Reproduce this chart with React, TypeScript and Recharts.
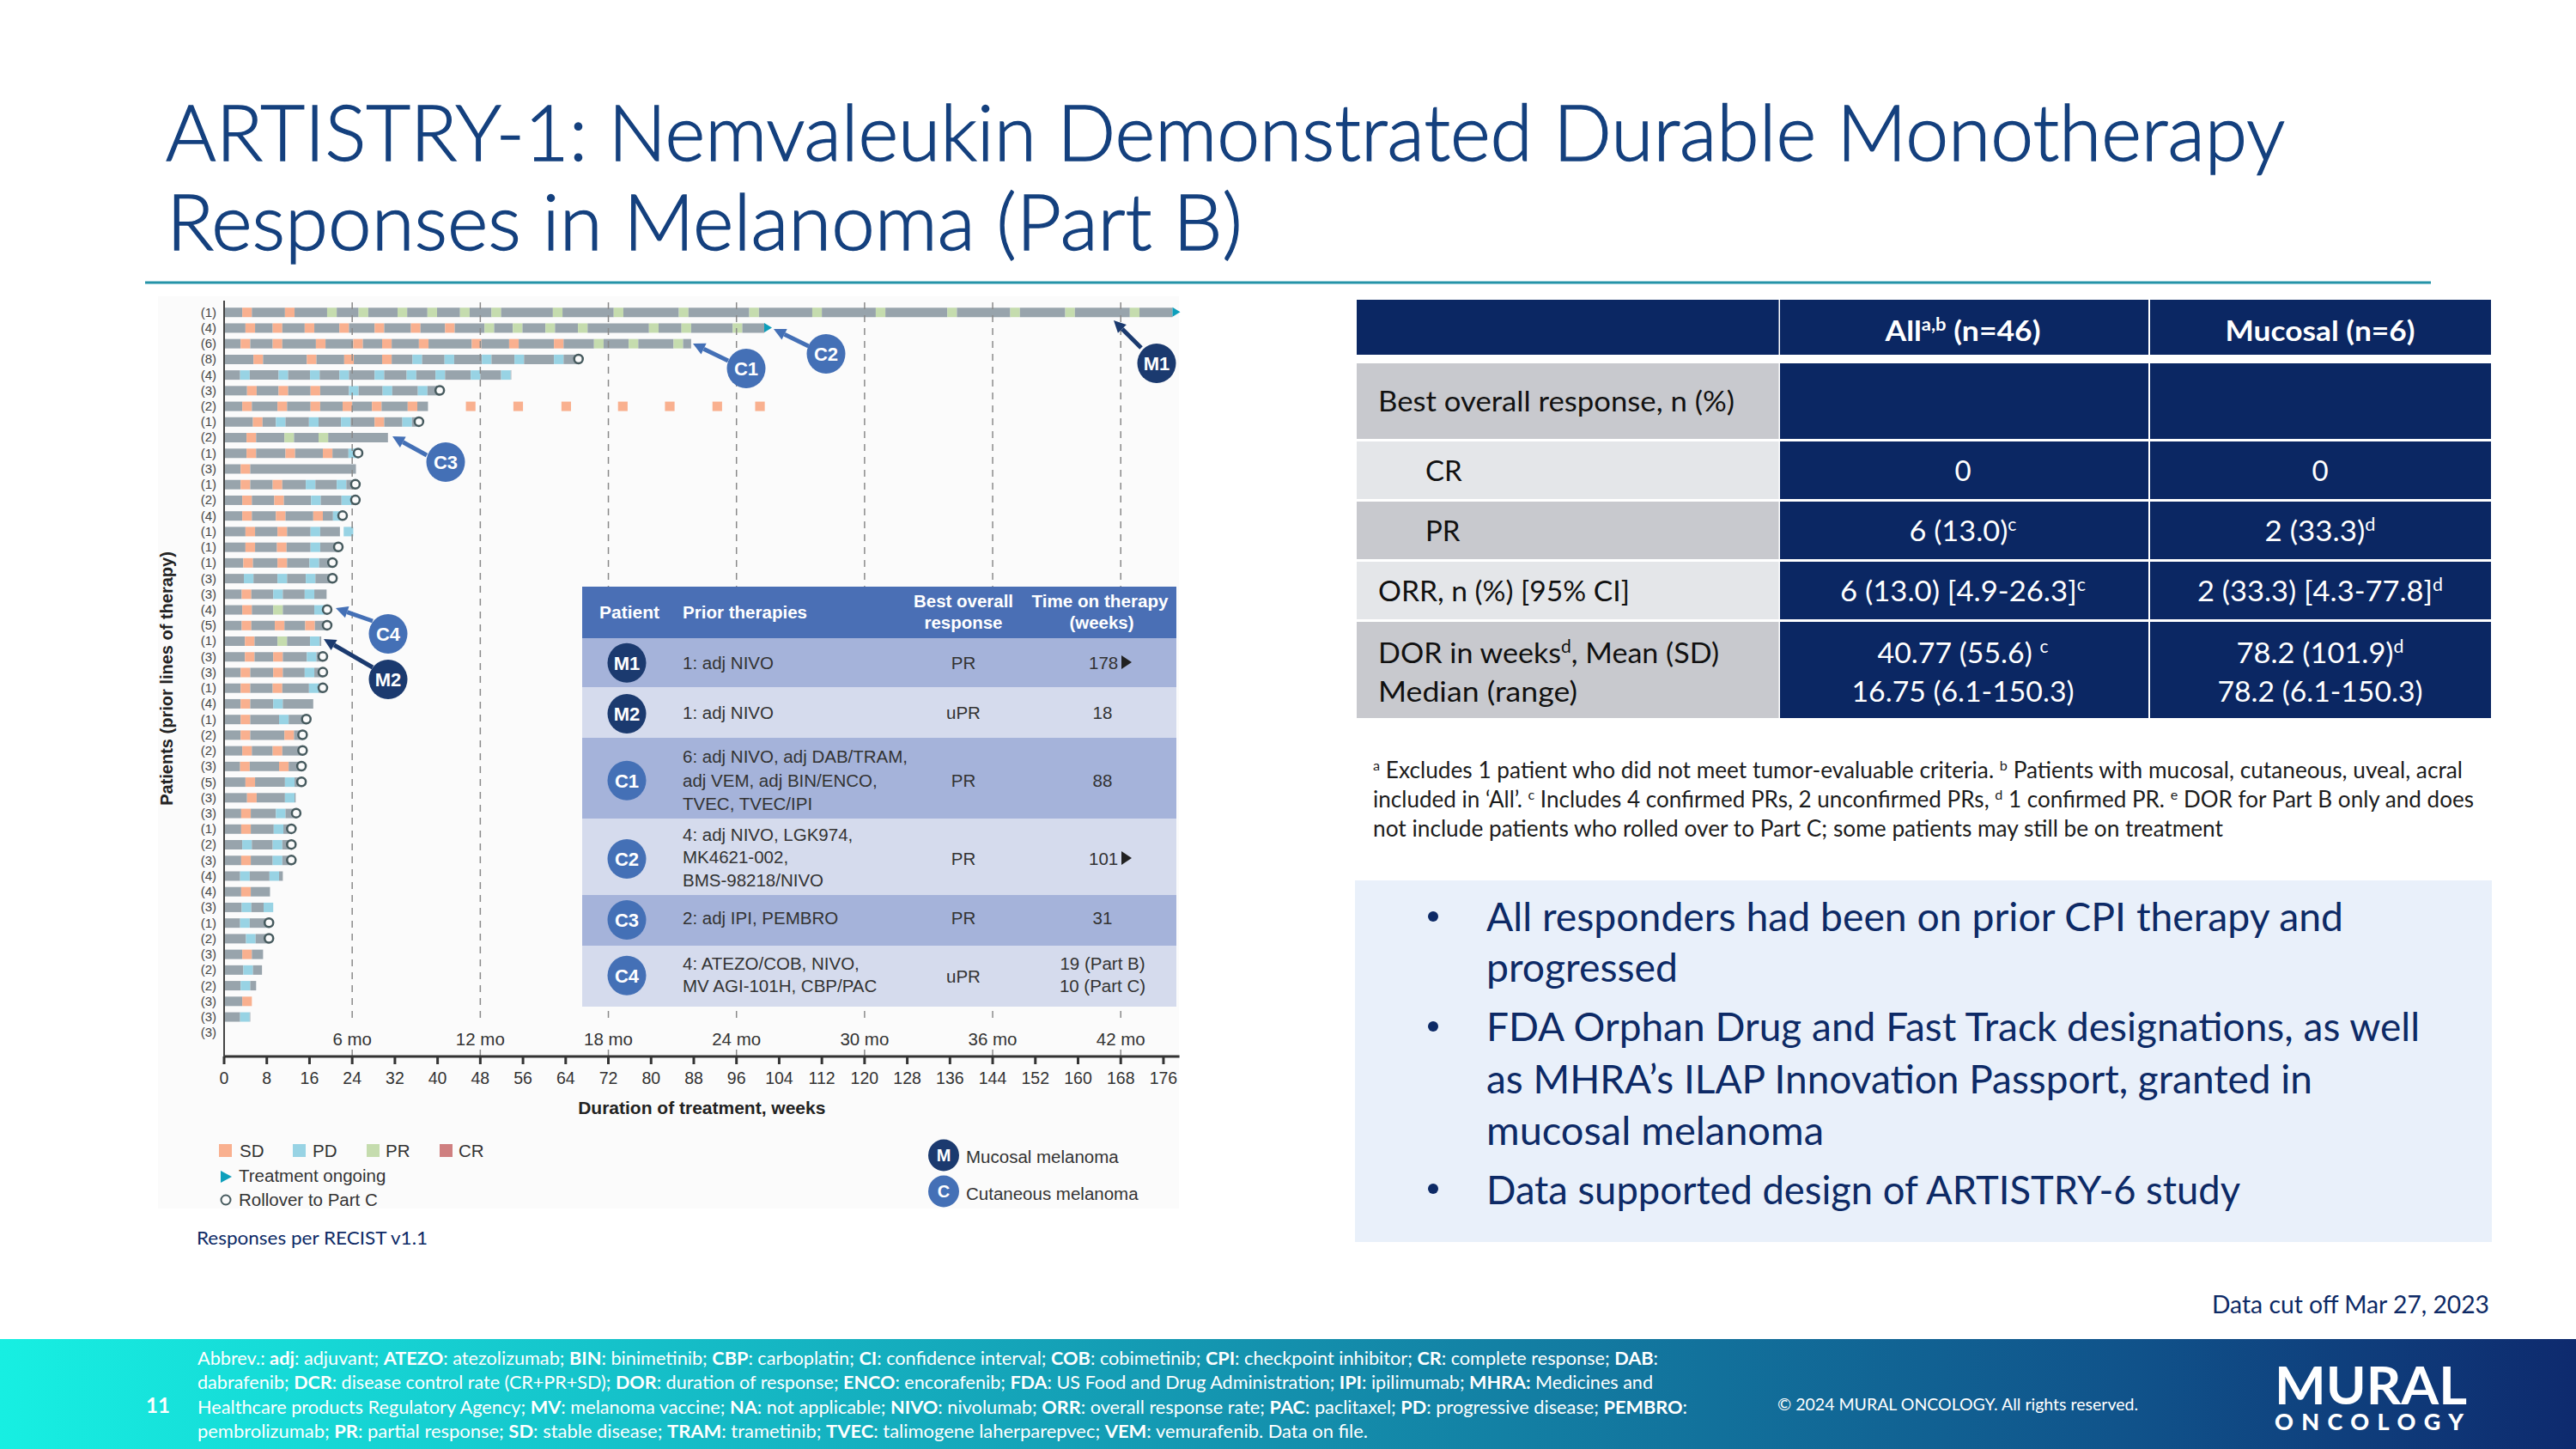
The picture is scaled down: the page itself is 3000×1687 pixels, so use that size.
import React from "react";
import { BarChart, Bar, Cell, XAxis, YAxis, ReferenceLine, ReferenceDot } from "recharts";

// ---------- Data ----------
const priorLines = [1,4,6,8,4,3,2,1,2,1,3,1,2,4,1,1,1,3,3,4,5,1,3,3,1,4,1,2,2,3,5,3,3,1,2,3,4,4,3,1,2,3,2,2,3,3,3];
const durations = [177.7,101.2,87.5,66.4,53.8,40.4,38.2,36.5,30.7,25.1,24.7,24.6,24.6,22.2,21.7,21.4,20.3,20.3,19.2,19.3,19.3,18.2,18.5,18.5,18.5,16.7,15.4,14.7,14.7,14.5,14.5,13.4,13.5,12.6,12.6,12.6,11,8.6,9.2,8.4,8.4,7.3,7.1,6,5.1,4.9,0];
const markWeeks = [
  [3.4,11.4,19.3,25.2,32.5,38.1,44.2,50.1,61.6,73,85.2,98.4,110.2,122.1,135.5,147.3,157.6,169.7],
  [4,9.1,15.1,21.6,28.2,35,41.4,48.8,54.1,60.2,66.3,79.6,85.7,95.3],
  [3.1,9.1,17.2,24.2,29.6,36.5,46.4,53.4,61.8,69.3,75.8,84.2],
  [5.5,15.5,22.5,29.6,35.3,41.3,48.3,54.4,61.8],
  [3,10.2,16.1,21.6,28.2,34.2,39.6,46.2,51.9],
  [4.3,10.2,16.2,23.4,29.7,36.3],
  [3.4,10,16.2,22.2,27.7,34.4,45.3,54.2,63.2,73.8,82.6,91.5,99.5],
  [5.4,9.7,15.9,21.9,28.2,33.4],
  [4.2,11.3,17.7],
  [4.2,11.5,18.5,23.3],
  [3.1],
  [3.1,9.1,15.3,21.1],
  [3.4,9.4,16.3,22],
  [3.4,9.7,16.7,20.4],
  [4,10,16.2,22.4],
  [4,9.9,16.2],
  [3.6,10,16],
  [3.7,10,15.3],
  [3.3,9.2,15.1],
  [3.4,9.2,16.9],
  [3.3,9.5,15.2],
  [3.9,10,16.1],
  [3.9,9.2,15.5],
  [3.1,9.2,15.1],
  [3.1,9.1,15.9],
  [3.1,9.2],
  [3.1,10.3],
  [3.1,11.3],
  [3.4,9.1],
  [3,10.3],
  [4,11.4],
  [4.3,11.4],
  [3.2,9.7],
  [3.2,9.3],
  [3.4,9.1],
  [3.2,9.1],
  [3,8.5],
  [3.2],
  [3.3,7.4],
  [3],
  [4.1],
  [3.4],
  [3.6],
  [3.1],
  [3.4],
  [3],
  [],
];
const markKinds = [
  "SSRRRRRRRRRRRRRRRR","SSSSSSSRRRRRRR","SSSSSSSSSRRR","SSSSDDDDD","DDDDDDDDD","SSSDDD","SSSSSSSSSSSSS","SDDDSD","SRR","SSSD",
  "S","SSDD","SSDD","SSSD","SSDD","SSD","SSD","DDD","SDD","SRD","SSS","SRD","SSD","SSD","SSD","SD","SD","SS","SS","SS","SD","SD","SD","SD","DD","SD","DD","S","DD","D","D","S","D","D","S","D","",
];
const rolloverRows = [3,5,7,9,11,12,13,15,16,17,19,20,22,23,24,26,27,28,29,30,32,33,34,35,39,40];
const ongoingRows = [0,1];
const weekTicks = [0,8,16,24,32,40,48,56,64,72,80,88,96,104,112,120,128,136,144,152,160,168,176];
const monthLines = [[24,"6 mo"],[48,"12 mo"],[72,"18 mo"],[96,"24 mo"],[120,"30 mo"],[144,"36 mo"],[168,"42 mo"]];
const footerLines = [
  "Abbrev.: **adj**: adjuvant; **ATEZO**: atezolizumab; **BIN**: binimetinib; **CBP**: carboplatin; **CI**: confidence interval; **COB**: cobimetinib; **CPI**: checkpoint inhibitor; **CR**: complete response; **DAB**:",
  "dabrafenib; **DCR**: disease control rate (CR+PR+SD); **DOR**: duration of response; **ENCO**: encorafenib; **FDA**: US Food and Drug Administration; **IPI**: ipilimumab; **MHRA:** Medicines and",
  "Healthcare products Regulatory Agency; **MV**: melanoma vaccine; **NA**: not applicable; **NIVO**: nivolumab; **ORR**: overall response rate; **PAC**: paclitaxel; **PD**: progressive disease; **PEMBRO**:",
  "pembrolizumab; **PR**: partial response; **SD**: stable disease; **TRAM**: trametinib; **TVEC**: talimogene laherparepvec; **VEM**: vemurafenib.  Data on file.",
];

// ---------- Styles ----------
const GREY = "#98a4ac", SD = "#f9b08f", PD = "#98d3e4", PR = "#c5dcae", CR = "#cf7f80";
const kindColor = { G: GREY, S: SD, D: PD, R: PR, N: "none" };
const MARK = 1.8;
const HEL = "'Liberation Sans', Arial, sans-serif";
const CAL = "Lato, 'Open Sans', sans-serif";
const NAVY = "#0b2763", INK = "#0d2a66", CBLUE = "#4470b6", MBLUE = "#1b3a6f";

// ---------- Segments for the stacked bars ----------
const segments = priorLines.map((_, r) => {
  const out = [];
  let cur = 0;
  const dur = durations[r];
  markWeeks[r].forEach((m, i) => {
    if (m > cur) {
      const end = Math.min(m, dur);
      if (end > cur) { out.push([end - cur, "G"]); cur = end; }
      if (m > cur) { out.push([m - cur, "N"]); cur = m; }
    }
    out.push([MARK, markKinds[r][i]]);
    cur = m + MARK;
  });
  if (dur > cur) out.push([dur - cur, "G"]);
  return out;
});
const maxSegs = Math.max(...segments.map((s) => s.length));
const segIdx = Array.from({ length: maxSegs }, (_, i) => i);
const rows = priorLines.map((_, r) => {
  const o = { row: r };
  segments[r].forEach((s, i) => { o["s" + i] = s[0]; });
  return o;
});

const MonthLabel = ({ viewBox, text }) => {
  const cx = viewBox.x;
  const bottom = viewBox.y + viewBox.height;
  return (
    <g>
      <rect x={cx - 34} y={bottom - 38} width={68} height={30} fill="#fbfbfb" />
      <text x={cx} y={bottom - 13} textAnchor="middle" fontSize={20.5} fontFamily={HEL} fill="#333">{text}</text>
    </g>
  );
};

const T = ({ x, y, size, fill = "#000", anchor = "start", weight = 400, len, font = CAL, adjust = "spacingAndGlyphs", children }) => (
  <text x={x} y={y} fontSize={size} fill={fill} textAnchor={anchor} fontWeight={weight} fontFamily={font}
    textLength={len} lengthAdjust={len ? adjust : undefined}>{children}</text>
);
const Sup = ({ size, children, after }) => (
  <>
    <tspan dy={-size * 0.36} fontSize={size * 0.62}>{children}</tspan>
    {after ? <tspan dy={size * 0.36}>{after}</tspan> : null}
  </>
);
const Badge = ({ x, y, r = 22.5, fill, text, size = 22 }) => (
  <g>
    <ellipse cx={x} cy={y} rx={r} ry={r + 0.5} fill={fill} />
    <text x={x} y={y + size * 0.36} textAnchor="middle" fontSize={size} fontWeight={700} fontFamily={HEL} fill="#fff">{text}</text>
  </g>
);
const Arrow = ({ x1, y1, x2, y2, color }) => {
  const a = Math.atan2(y2 - y1, x2 - x1);
  const l = 14, w = 7;
  const bx = x2 - l * Math.cos(a), by = y2 - l * Math.sin(a);
  const nx = -Math.sin(a) * w, ny = Math.cos(a) * w;
  return (
    <g>
      <line x1={x1} y1={y1} x2={bx} y2={by} stroke={color} strokeWidth={5} />
      <polygon points={`${x2},${y2} ${bx + nx},${by + ny} ${bx - nx},${by - ny}`} fill={color} />
    </g>
  );
};
const richLine = (s) => s.split("**").map((p, i) => (
  <tspan key={i} fontWeight={i % 2 ? 700 : 400}>{p}</tspan>
));

const innerRows = [
  { y0: 743, y1: 800, dark: true },
  { y0: 800, y1: 859, dark: false },
  { y0: 859, y1: 953, dark: true },
  { y0: 953, y1: 1042, dark: false },
  { y0: 1042, y1: 1101, dark: true },
  { y0: 1101, y1: 1172, dark: false },
];
const innerBadges = [[771.7, "M1", MBLUE],[831, "M2", MBLUE],[908.7, "C1", CBLUE],[1000, "C2", CBLUE],[1071, "C3", CBLUE],[1135.7, "C4", CBLUE]];
const therapyLines = [
  [779, "1: adj NIVO"],[837, "1: adj NIVO"],
  [888, "6: adj NIVO, adj DAB/TRAM,"],[916, "adj VEM, adj BIN/ENCO,"],[943, "TVEC, TVEC/IPI"],
  [979, "4: adj NIVO, LGK974,"],[1005, "MK4621-002,"],[1032, "BMS-98218/NIVO"],
  [1076, "2: adj IPI, PEMBRO"],[1129, "4: ATEZO/COB, NIVO,"],[1155, "MV AGI-101H, CBP/PAC"],
];
const responseLines = [[779,"PR"],[837,"uPR"],[916,"PR"],[1007,"PR"],[1076,"PR"],[1144,"uPR"]];
const timeLines = [[837,"18"],[916,"88"],[1076,"31"],[1129,"19 (Part B)"],[1155,"10 (Part C)"]];
const callouts = [
  { cx: 1347, cy: 423, t: "M1", c: MBLUE, a: [1329, 405, 1297, 373] },
  { cx: 962, cy: 412, t: "C2", c: CBLUE, a: [941.6, 403, 901, 383] },
  { cx: 869, cy: 429, t: "C1", c: CBLUE, a: [848, 420, 807, 400] },
  { cx: 519, cy: 538, t: "C3", c: CBLUE, a: [497, 530, 457, 508] },
  { cx: 452, cy: 738, t: "C4", c: CBLUE, a: [434, 723, 391, 708] },
  { cx: 452, cy: 791, t: "M2", c: MBLUE, a: [434, 777, 377, 744] },
];
const tableCols = [[1580, 491.5],[2073, 429],[2504, 397]];
const tableRows = [[349, 64],[423, 88],[514, 67],[584, 67],[654, 67],[724, 112]];
const rowFill = ["none", "#c8c9ce", "#e4e6e9", "#c8c9ce", "#e4e6e9", "#c8c9ce"];
const bullets = [
  [1084, "All responders had been on prior CPI therapy and", 998],
  [1143, "progressed", 223],
  [1212, "FDA Orphan Drug and Fast Track designations, as well", 1087],
  [1273, "as MHRA\u2019s ILAP Innovation Passport, granted in", 962],
  [1333, "mucosal melanoma", 393],
  [1401.5, "Data supported design of ARTISTRY-6 study", 878],
];
const bulletDots = [1067, 1195, 1384];

export default function App() {
  return (
    <div style={{ position: "absolute", left: 0, top: 0, width: 3000, height: 1687, background: "#fff", overflow: "hidden" }}>
      <div style={{ position: "absolute", left: 184, top: 345, width: 1189, height: 1062, background: "#fbfbfb" }} />
      <div style={{ position: "absolute", left: 0, top: 1559, width: 3000, height: 128,
        background: "linear-gradient(90deg,#17efe2 0%,#15c0c9 25%,#1490ad 50%,#10528a 83%,#0e2a6e 100%)" }} />
      <div style={{ position: "absolute", left: 0, top: 0 }}>
        <BarChart width={3000} height={1687} data={rows} layout="vertical" barSize={11}
          margin={{ top: 350, right: 1626.4, bottom: 397, left: 181 }}>
          <XAxis type="number" domain={[0, 179]} ticks={weekTicks} interval={0} allowDataOverflow
            height={60} tickSize={9} tickMargin={9} stroke="#333" strokeWidth={3}
            tick={{ fontSize: 19.5, fontFamily: HEL, fill: "#333" }}
            label={{ value: "Duration of treatment, weeks", position: "insideBottom", offset: -7, fontSize: 21, fontWeight: 700, fontFamily: HEL, fill: "#222" }} />
          <YAxis type="category" dataKey="row" width={80} interval={0} padding={{ top: 4.2, bottom: 19 }}
            tickLine={false} tickMargin={3} stroke="#444" strokeWidth={2}
            tickFormatter={(v) => `(${priorLines[v]})`}
            tick={{ fontSize: 15, fontFamily: HEL, fill: "#444" }}
            label={{ value: "Patients (prior lines of therapy)", angle: -90, position: "insideLeft", offset: 13, fontSize: 20, fontWeight: 700, fontFamily: HEL, fill: "#222", style: { textAnchor: "middle" } }} />
          {monthLines.map(([w, t]) => (
            <ReferenceLine key={w} x={w} stroke="#8a8a8a" strokeWidth={1.5} strokeDasharray="8 7" label={<MonthLabel text={t} />} />
          ))}
          {segIdx.map((i) => (
            <Bar key={i} dataKey={"s" + i} stackId="a" isAnimationActive={false}>
              {rows.map((_, r) => {
                const seg = segments[r][i];
                return <Cell key={r} fill={seg ? kindColor[seg[1]] : "none"} />;
              })}
            </Bar>
          ))}
          {rolloverRows.map((r) => (
            <ReferenceDot key={r} x={durations[r]} y={r} r={5} fill="#fbfbfb" stroke="#465a5e" strokeWidth={2.5} isFront zIndex={900} ifOverflow="visible" />
          ))}
          {ongoingRows.map((r) => (
            <ReferenceDot key={r} x={durations[r]} y={r} isFront zIndex={900} ifOverflow="visible"
              shape={(p) => <polygon points={`${p.cx},${p.cy - 5.5} ${p.cx + 9},${p.cy} ${p.cx},${p.cy + 5.5}`} fill="#0e9fbb" />} />
          ))}
        </BarChart>
      </div>

      <svg width={3000} height={1687} style={{ position: "absolute", left: 0, top: 0, pointerEvents: "none" }}>
        {/* Slide title */}
        <g stroke="#14407e" strokeWidth={1.3}>
          <T x={193} y={187} size={90} fill="#14407e" weight={300} len={2468}>ARTISTRY-1: Nemvaleukin Demonstrated Durable Monotherapy</T>
          <T x={194} y={291} size={90} fill="#14407e" weight={300} len={1253}>Responses in Melanoma (Part B)</T>
        </g>
        <rect x={169} y={327.5} width={2662} height={3} fill="#2593a8" />

        {/* Callouts */}
        {callouts.map((c) => (
          <g key={c.t}>
            <Arrow x1={c.a[0]} y1={c.a[1]} x2={c.a[2]} y2={c.a[3]} color={c.c} />
            <Badge x={c.cx} y={c.cy} fill={c.c} text={c.t} />
          </g>
        ))}

        {/* Inner table */}
        <rect x={678} y={683} width={692} height={60} fill="#4a6fb5" />
        {innerRows.map((r) => (
          <rect key={r.y0} x={678} y={r.y0} width={692} height={r.y1 - r.y0} fill={r.dark ? "#a5b3da" : "#d5dbed"} />
        ))}
        <T x={698} y={720} size={20} fill="#fff" font={HEL} weight={700} len={70}>Patient</T>
        <T x={795} y={720} size={20} fill="#fff" font={HEL} weight={700} len={145}>Prior therapies</T>
        <T x={1122} y={707} size={20} fill="#fff" font={HEL} weight={700} anchor="middle" len={116}>Best overall</T>
        <T x={1122} y={732} size={20} fill="#fff" font={HEL} weight={700} anchor="middle" len={91}>response</T>
        <T x={1281} y={707} size={20} fill="#fff" font={HEL} weight={700} anchor="middle" len={159}>Time on therapy</T>
        <T x={1283} y={732} size={20} fill="#fff" font={HEL} weight={700} anchor="middle" len={75}>(weeks)</T>
        {innerBadges.map(([y, t, c]) => <Badge key={t} x={730} y={y} fill={c} text={t} />)}
        {therapyLines.map(([y, t]) => <T key={y} x={795} y={y} size={20.5} fill="#333" font={HEL}>{t}</T>)}
        {responseLines.map(([y, t]) => <T key={y} x={1122} y={y} size={20.5} fill="#333" font={HEL} anchor="middle">{t}</T>)}
        {timeLines.map(([y, t]) => <T key={y} x={1284} y={y} size={20.5} fill="#333" font={HEL} anchor="middle">{t}</T>)}
        <T x={1268} y={779} size={20.5} fill="#333" font={HEL}>178</T>
        <polygon points="1306,763 1318,771 1306,779" fill="#222" />
        <T x={1268} y={1007} size={20.5} fill="#333" font={HEL}>101</T>
        <polygon points="1306,991 1318,999 1306,1007" fill="#222" />

        {/* Chart legend */}
        <rect x={255} y={1332} width={15} height={15} fill={SD} />
        <T x={279} y={1347} size={20.5} fill="#333" font={HEL}>SD</T>
        <rect x={341} y={1332} width={15} height={15} fill={PD} />
        <T x={364} y={1347} size={20.5} fill="#333" font={HEL}>PD</T>
        <rect x={427} y={1332} width={15} height={15} fill={PR} />
        <T x={449} y={1347} size={20.5} fill="#333" font={HEL}>PR</T>
        <rect x={512} y={1332} width={15} height={15} fill={CR} />
        <T x={534} y={1347} size={20.5} fill="#333" font={HEL}>CR</T>
        <polygon points="257,1363 270,1370 257,1377" fill="#0e9fbb" />
        <T x={278} y={1376} size={20.5} fill="#333" font={HEL}>Treatment ongoing</T>
        <ellipse cx={263} cy={1397} rx={5.5} ry={5.5} fill="#fbfbfb" stroke="#465a5e" strokeWidth={2} />
        <T x={278} y={1404} size={20.5} fill="#333" font={HEL}>Rollover to Part C</T>
        <Badge x={1099} y={1345} r={18} fill={MBLUE} text="M" size={20} />
        <T x={1125} y={1354} size={20.5} fill="#333" font={HEL}>Mucosal melanoma</T>
        <Badge x={1099} y={1387} r={18} fill={CBLUE} text="C" size={20} />
        <T x={1125} y={1397} size={20.5} fill="#333" font={HEL}>Cutaneous melanoma</T>
        <T x={229} y={1449} size={22} fill={INK} len={269}>Responses per RECIST v1.1</T>

        {/* Right table */}
        {tableRows.map(([y, h], ri) => (
          <g key={y}>
            {tableCols.map(([x, w], ci) => (
              <rect key={x} x={x} y={y} width={w} height={h} fill={ci === 0 ? (ri === 0 ? NAVY : rowFill[ri]) : NAVY} />
            ))}
          </g>
        ))}
        <T x={2286} y={397} size={33} fill="#fff" weight={700} anchor="middle" len={181}>
          All<Sup size={33} after=" (n=46)">a,b</Sup>
        </T>
        <T x={2702} y={397} size={33} fill="#fff" weight={700} anchor="middle" len={221}>Mucosal (n=6)</T>
        <T x={1605} y={479} size={33} fill="#111" len={415}>Best overall response, n (%)</T>
        <T x={1660} y={560} size={33} fill="#111">CR</T>
        <T x={1660} y={630} size={33} fill="#111">PR</T>
        <T x={1605} y={700} size={33} fill="#111" len={293}>ORR, n (%) [95% CI]</T>
        <T x={1605} y={772} size={33} fill="#111" len={397}>DOR in weeks<Sup size={33} after=", Mean (SD)">d</Sup></T>
        <T x={1605} y={817} size={33} fill="#111" len={232}>Median (range)</T>
        <T x={2286} y={560} size={33} fill="#fff" anchor="middle">0</T>
        <T x={2702} y={560} size={33} fill="#fff" anchor="middle">0</T>
        <T x={2286} y={630} size={33} fill="#fff" anchor="middle" len={125}>6 (13.0)<Sup size={33}>c</Sup></T>
        <T x={2702} y={630} size={33} fill="#fff" anchor="middle" len={129}>2 (33.3)<Sup size={33}>d</Sup></T>
        <T x={2286} y={700} size={33} fill="#fff" anchor="middle" len={286}>6 (13.0) [4.9-26.3]<Sup size={33}>c</Sup></T>
        <T x={2702} y={700} size={33} fill="#fff" anchor="middle" len={286}>2 (33.3) [4.3-77.8]<Sup size={33}>d</Sup></T>
        <T x={2286} y={772} size={33} fill="#fff" anchor="middle" len={199}>40.77 (55.6) <Sup size={33}>c</Sup></T>
        <T x={2702} y={772} size={33} fill="#fff" anchor="middle" len={195}>78.2 (101.9)<Sup size={33}>d</Sup></T>
        <T x={2286} y={817} size={33} fill="#fff" anchor="middle" len={259}>16.75 (6.1-150.3)</T>
        <T x={2702} y={817} size={33} fill="#fff" anchor="middle" len={239}>78.2 (6.1-150.3)</T>

        {/* Notes */}
        <T x={1599} y={906} size={26} fill="#1c1c1c" len={1269}>
          <Sup size={26} after=" Excludes 1 patient who did not meet tumor-evaluable criteria. ">a</Sup>
          <Sup size={26} after=" Patients with mucosal, cutaneous, uveal, acral">b</Sup>
        </T>
        <T x={1599} y={940} size={26} fill="#1c1c1c" len={1282}>
          {"included  in \u2018All\u2019. "}<Sup size={26} after=" Includes 4 confirmed PRs, 2 unconfirmed PRs, ">c</Sup>
          <Sup size={26} after=" 1 confirmed PR. ">d</Sup><Sup size={26} after=" DOR for Part B only and does">e</Sup>
        </T>
        <T x={1599} y={974} size={26} fill="#1c1c1c" len={990}>not include patients who rolled over to Part C; some patients may still be on treatment</T>

        {/* Key points */}
        <rect x={1578} y={1025} width={1324} height={421} fill="#e9f0fa" />
        {bulletDots.map((y) => <circle key={y} cx={1669} cy={y} r={6} fill={INK} />)}
        {bullets.map(([y, t, w]) => <T key={y} x={1731} y={y} size={46} fill={INK} len={w}>{t}</T>)}
        <T x={2576} y={1529} size={29} fill={INK} len={323}>Data cut off Mar 27, 2023</T>

        {/* Footer */}
        <T x={170} y={1645} size={24} fill="#fff" weight={700}>11</T>
        {footerLines.map((s, i) => (
          <T key={i} x={230} y={1589 + i * 28.3} size={21} fill="#fff" len={[1701, 1695, 1735, 1363][i]}>{richLine(s)}</T>
        ))}
        <T x={2070} y={1642} size={20} fill="#fff" len={420}>{"\u00A9 2024 MURAL ONCOLOGY. All rights reserved."}</T>
        <T x={2649} y={1635} size={62} fill="#fff" weight={700} len={224}>MURAL</T>
        <T x={2649} y={1665} size={27} fill="#fff" weight={900} len={220} adjust="spacing">ONCOLOGY</T>
      </svg>
    </div>
  );
}
